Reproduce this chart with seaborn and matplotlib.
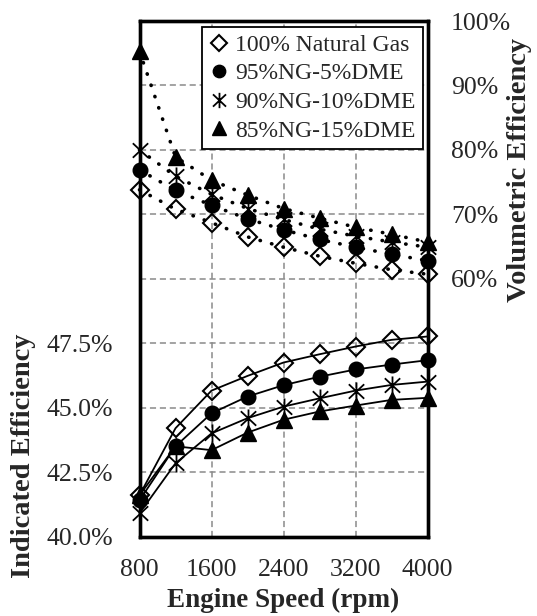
import matplotlib
matplotlib.use("Agg")
import matplotlib.pyplot as plt
from matplotlib.lines import Line2D
from matplotlib.path import Path
import seaborn as sns

# engine speed (rpm)
speed = [800, 1200, 1600, 2000, 2400, 2800, 3200, 3600, 4000]
fuels = ["100% Natural Gas", "95%NG-5%DME", "90%NG-10%DME", "85%NG-15%DME"]

# volumetric efficiency (%), right axis
vol_ng = [73.8, 70.8, 68.7, 66.5, 64.9, 63.5, 62.4, 61.4, 60.7]
vol_5 = [76.9, 73.7, 71.4, 69.3, 67.6, 66.1, 64.9, 63.8, 62.8]
vol_10 = [80.0, 75.9, 73.1, 70.9, 69.2, 67.7, 66.6, 65.7, 64.9]
vol_15 = [95.3, 78.9, 75.3, 73.0, 70.9, 69.4, 68.0, 66.9, 65.7]

# indicated efficiency (%), left axis
ind_ng = [41.6, 44.2, 45.66, 46.23, 46.75, 47.07, 47.37, 47.63, 47.76]
ind_5 = [41.4, 43.5, 44.78, 45.43, 45.87, 46.2, 46.48, 46.67, 46.84]
ind_10 = [40.9, 42.84, 44.0, 44.59, 45.04, 45.36, 45.66, 45.88, 46.01]
ind_15 = [41.6, 43.5, 43.35, 44.03, 44.53, 44.85, 45.08, 45.3, 45.38]

x_ticks = [800, 1600, 2400, 3200, 4000]
ind_ticks = [40, 42.5, 45, 47.5, 50, 52.5, 55, 57.5, 60]
ind_ticklabels = ["40.0%", "42.5%", "45.0%", "47.5%", "", "", "", "", ""]
vol_ticks = [20, 30, 40, 50, 60, 70, 80, 90, 100]
vol_ticklabels = ["", "", "", "", "60%", "70%", "80%", "90%", "100%"]

vol_series = [vol_ng, vol_5, vol_10, vol_15]
ind_series = [ind_ng, ind_5, ind_10, ind_15]

sns.set_theme(style="white")
plt.rcParams["font.family"] = ["Liberation Serif", "DejaVu Serif"]

# excel-like asterisk: vertical bar plus an X
asterisk = Path([(0, -1), (0, 1), (-0.85, -0.8), (0.85, 0.8), (-0.85, 0.8), (0.85, -0.8)],
                [Path.MOVETO, Path.LINETO] * 3)
marks = [
    dict(marker="D", ms=9, mfc="none", mew=1.5),
    dict(marker="o", ms=10.5, mfc="black", mew=1),
    dict(marker=asterisk, ms=13, mfc="none", mew=1.3),
    dict(marker="^", ms=11.5, mfc="black", mew=1),
]

fig, ax = plt.subplots(figsize=(5.37, 6.16), dpi=100)
fig.subplots_adjust(left=139.5 / 537, right=427.5 / 537, bottom=1 - 536.5 / 616, top=1 - 21 / 616)
ax2 = ax.twinx()

for ind, vol, mk in zip(ind_series, vol_series, marks):
    sns.lineplot(x=speed, y=ind, ax=ax, color="black", lw=1.3, mec="black",
                 clip_on=False, zorder=3, **mk)
    sns.lineplot(x=speed, y=vol, ax=ax2, color="black", lw=2.6, linestyle=(0, (0.1, 3.2)),
                 dash_capstyle="round", mec="black", clip_on=False, zorder=3, **mk)

ax.set_xlim(800, 4000)
ax.set_ylim(40, 60)
ax2.set_ylim(20, 100)
ax.set_xticks(x_ticks)
ax.set_yticks(ind_ticks, ind_ticklabels)
ax2.set_yticks(vol_ticks, vol_ticklabels)

ax.grid(True, color="#8a8a8a", linestyle=(0, (4, 2.5)), lw=1.1)
ax2.grid(False)
ax.set_axisbelow(True)

for a in (ax, ax2):
    a.tick_params(length=0, labelsize=18.5, pad=19)
    for s in a.spines.values():
        s.set_color("black")
        s.set_linewidth(2.4)
ax2.tick_params(pad=17)
ax.tick_params(axis="x", pad=16)

ax.set_xlabel("")
ax.set_ylabel("")
ax2.set_ylabel("")

fig.text(283.5 / 537, 1 - 600 / 616, "Engine Speed (rpm)", ha="center", va="center",
         fontsize=19.5, fontweight="bold")
fig.text(23 / 537, 1 - 456 / 616, "Indicated Efficiency", ha="center", va="center",
         rotation=90, fontsize=20.5, fontweight="bold")
fig.text(519 / 537, 1 - 170 / 616, "Volumetric Efficiency", ha="center", va="center",
         rotation=90, fontsize=20.5, fontweight="bold")

handles = [Line2D([], [], color="black", linestyle="none", mec="black", **dict(mk, ms=mk["ms"] * 0.85))
           for mk in marks]
leg = ax2.legend(handles, fuels, loc="upper right", bbox_to_anchor=(0.984, 0.988),
                 borderaxespad=0, fontsize=17, frameon=True, fancybox=False, framealpha=1,
                 edgecolor="black", handlelength=0.8, handletextpad=0.3, borderpad=0.3,
                 labelspacing=0.3)
leg.get_frame().set_linewidth(1.3)

fig.savefig("out.png", dpi=100)
